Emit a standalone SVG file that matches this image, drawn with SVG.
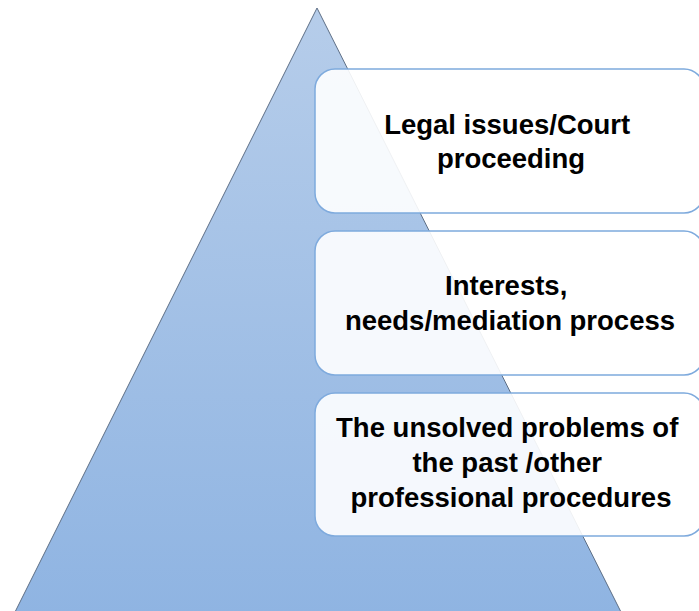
<svg xmlns="http://www.w3.org/2000/svg" width="699" height="611" viewBox="0 0 699 611">
  <defs>
    <linearGradient id="triGrad" x1="0" y1="0" x2="0" y2="1">
      <stop offset="0" stop-color="#b6cdea"/>
      <stop offset="1" stop-color="#8fb4e2"/>
    </linearGradient>
  </defs>
  <style>
    .box { fill: #ffffff; fill-opacity: 0.9; stroke: #7eaadd; stroke-width: 1.5; }
    .lbl { font-family: "Liberation Sans", Arial, sans-serif; font-weight: bold; font-size: 27.5px; fill: #000000; text-anchor: middle; }
  </style>
  <rect width="699" height="611" fill="#ffffff"/>
  <g id="pyramid">
    <polygon points="317,8 14,614 622,614" fill="url(#triGrad)" stroke="#5d6e85" stroke-width="1"/>
  </g>
  <g id="connectors"></g>
  <g id="node1">
    <rect class="box" x="315" y="69" width="389" height="144" rx="20" ry="20"/>
    <text class="lbl">
      <tspan x="511" y="134">Legal issues/Court</tspan>
      <tspan x="511" y="168">proceeding</tspan>
    </text>
  </g>
  <g id="node2">
    <rect class="box" x="315" y="231" width="389" height="144" rx="20" ry="20"/>
    <text class="lbl">
      <tspan x="510" y="295">Interests,</tspan>
      <tspan x="510" y="330">needs/mediation process</tspan>
    </text>
  </g>
  <g id="node3">
    <rect class="box" x="315" y="393" width="389" height="143" rx="20" ry="20"/>
    <text class="lbl">
      <tspan x="511" y="437">The unsolved problems of</tspan>
      <tspan x="511" y="472">the past /other</tspan>
      <tspan x="511" y="507">professional procedures</tspan>
    </text>
  </g>
</svg>
